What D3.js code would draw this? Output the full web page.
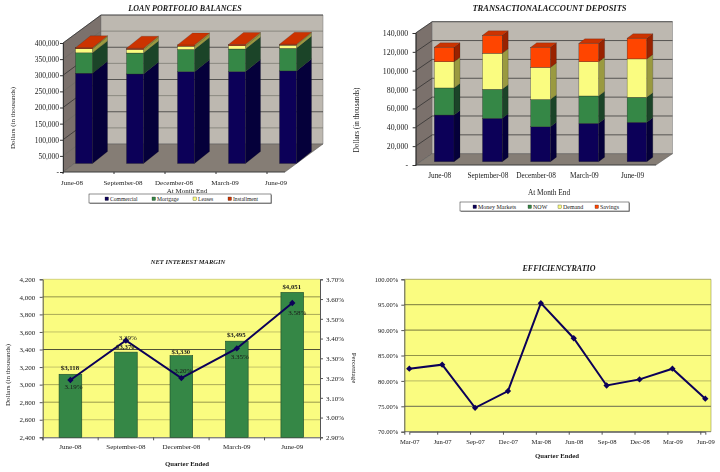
<!DOCTYPE html>
<html><head><meta charset="utf-8">
<script src="https://cdn.jsdelivr.net/npm/d3@7"></script>
<style>
html,body{margin:0;padding:0;background:#fff}
svg{display:block;filter:blur(0.3px)}
text{font-family:"Liberation Serif",serif;fill:#1a1a1a}
</style></head><body>
<svg id="c" width="720" height="472"></svg>
<script>
const quarters=["June-08","September-08","December-08","March-09","June-09"];
const loanKeys=["Commercial","Mortgage","Leases","Installment"];
const commercial=[280000,277500,284700,285000,287000];
const mortgage=[63000,65000,69000,70000,70000];
const leases=[13000,11000,10000,10000,10000];
const installment=[3000,4000,4000,4000,3000];
const depKeys=["Money Markets","NOW","Demand","Savings"];
const moneyMarkets=[49500,46000,37000,40700,41800];
const nowAcc=[28700,30800,29000,29000,26500];
const demand=[27800,38200,34000,36300,40700];
const savings=[15300,19000,21300,19500,21900];
const nimDollars=[3118,3370,3330,3495,4051];
const nimPct=[3.19,3.39,3.20,3.35,3.58];
const nimDollarLabels=["$3,118","$3,370","$3,330","$3,495","$4,051"];
const effQuarters=["Mar-07","Jun-07","Sep-07","Dec-07","Mar-08","Jun-08","Sep-08","Dec-08","Mar-09","Jun-09"];
const effRatio=[82.4,83.2,74.7,78.0,95.3,88.4,79.1,80.3,82.4,76.5];

const svg=d3.select("#c");
const NAVY="#0c0058",GREEN="#358746",YEL="#fafc80";
function txt(g,x,y,s,o={}){
  const t=g.append("text").attr("x",x).attr("y",y).text(s)
   .attr("font-size",o.size||7.5).attr("text-anchor",o.anchor||"middle");
  if(o.bold)t.attr("font-weight","bold");
  if(o.italic)t.attr("font-style","italic");
  if(o.rot!=null)t.attr("transform",`rotate(${o.rot} ${x} ${y})`);
  return t;
}
function poly(g,pts,fill,stroke,sw){
  g.append("polygon").attr("points",pts.map(p=>p.join(",")).join(" "))
   .attr("fill",fill).attr("stroke",stroke||"none").attr("stroke-width",sw||0);
}
function marker(g,px,py){
  g.append("path").attr("d",d3.symbol(d3.symbolSquare,20)).attr("fill",NAVY)
    .attr("transform",`translate(${px},${py}) rotate(45)`);
}
function stack3D(o){
  const g=svg.append("g");
  const {L,R,T,B,dx,dy}=o;
  const y=d3.scaleLinear().domain([0,o.max]).range([B,T]);
  poly(g,[[L,B],[L,T],[L+dx,T+dy],[L+dx,B+dy]],"#7b716c","#555",.5);
  poly(g,[[L+dx,T+dy],[R+dx,T+dy],[R+dx,B+dy],[L+dx,B+dy]],"#bdb8b0","#777",.5);
  poly(g,[[L,B],[L+dx,B+dy],[R+dx,B+dy],[R,B]],"#857d75","#555",.5);
  y.ticks(o.tickCount).forEach(v=>{
    const yy=y(v),dark=o.darkGrid(v);
    const c=dark?"#2a2a2a":"#6a6a62";
    if(v===0)return;
    g.append("path").attr("d",`M${L},${yy}L${L+dx},${yy+dy}L${R+dx},${yy+dy}`)
      .attr("fill","none").attr("stroke",c).attr("stroke-width",dark?.7:.6);
  });
  const ax=g.append("g").attr("transform",`translate(${L},0)`)
    .call(d3.axisLeft(y).ticks(o.tickCount).tickSize(3).tickFormat(v=>v===0?"-":d3.format(",")(v)));
  ax.select(".domain").attr("stroke","#333");
  ax.selectAll("line").attr("stroke","#333");
  ax.selectAll("text").attr("font-size",o.tickSize).attr("font-family",null).attr("dx",o.tickDx||0);
  g.append("line").attr("x1",L).attr("x2",R).attr("y1",B).attr("y2",B).attr("stroke","#333").attr("stroke-width",.7);
  const band=d3.scaleBand().domain(quarters).range(o.bandRange);
  const rows=quarters.map((q,i)=>{const r={q};o.keys.forEach((k,j)=>r[k]=o.series[j][i]);return r;});
  const st=d3.stack().keys(o.keys)(rows);
  const ys=d3.scaleLinear().domain([0,o.max]).range([o.base,o.base-(B-T)]);
  quarters.forEach((q,i)=>{
    const x0=band(q)+o.barOff,x1=x0+o.barW;
    st.forEach((s,j)=>{
      const a=ys(s[i][0]),b=ys(s[i][1]);
      poly(g,[[x1,a],[x1+o.bx,a+o.by],[x1+o.bx,b+o.by],[x1,b]],o.side[j],"#111",.2);
      g.append("rect").attr("x",x0).attr("y",b).attr("width",o.barW).attr("height",a-b)
        .attr("fill",o.front[j]).attr("stroke","#222").attr("stroke-width",.3);
      if(j===st.length-1)
        poly(g,[[x0,b],[x0+o.bx,b+o.by],[x1+o.bx,b+o.by],[x1,b]],o.top,"#222",.2);
    });
    g.append("line").attr("x1",band(q)).attr("x2",band(q)).attr("y1",B).attr("y2",B+(o.xTick||0)).attr("stroke","#333");
    txt(g,band(q)+o.labOff,o.labY,q,{size:o.labSize});
  });
  txt(g,o.tx,o.ty,o.title,{size:o.titleSize,bold:true,italic:true});
  txt(g,o.xtx,o.xty,"At Month End",{size:o.labSize});
  txt(g,o.ytx,o.yty,"Dollars (in thousands)",{size:o.labSize,rot:-90});
  g.append("rect").attr("x",o.leg[0]+.8).attr("y",o.leg[1]+.8).attr("width",o.leg[2]).attr("height",o.leg[3]).attr("fill","#888");
  g.append("rect").attr("x",o.leg[0]).attr("y",o.leg[1]).attr("width",o.leg[2]).attr("height",o.leg[3]).attr("fill","#fff").attr("stroke","#222").attr("stroke-width",.5);
  o.keys.forEach((k,j)=>{
    g.append("rect").attr("x",o.legX[j]).attr("y",o.leg[1]+3).attr("width",3.5).attr("height",3.5).attr("fill",o.front[j]).attr("stroke","#222").attr("stroke-width",.3);
    txt(g,o.legX[j]+5,o.leg[1]+7.2,k,{anchor:"start",size:o.legSize});
  });
}
stack3D({L:63,R:285,T:43,B:172,dx:38,dy:-28,max:400000,tickCount:8,tickSize:7.5,tickDx:2,
  darkGrid:v=>v%100000===0,bandRange:[63,318],barOff:12.5,barW:17,base:163.5,bx:15,by:-12,
  keys:loanKeys,series:[commercial,mortgage,leases,installment],
  front:[NAVY,GREEN,YEL,"#cc3300"],side:["#05003a","#1b4428","#9a9a40","#a89a3a"],top:"#cc3300",
  labOff:9,labY:184.5,labSize:7,xTick:2,legSize:5.6,
  tx:185,ty:10.5,title:"LOAN PORTFOLIO BALANCES",titleSize:8,
  xtx:187,xty:192.5,ytx:15,yty:118,
  leg:[89,194,182,9],legX:[105,152,193,228]});
stack3D({L:415.7,R:656,T:33,B:165,dx:16.5,dy:-11.3,max:140000,tickCount:7,tickSize:7.8,tickDx:-1.5,
  darkGrid:v=>true,bandRange:[415.7,656.7],barOff:18.6,barW:19.7,base:161.7,bx:6,by:-4.5,
  keys:depKeys,series:[moneyMarkets,nowAcc,demand,savings],
  front:[NAVY,GREEN,YEL,"#ff4500"],side:["#05003a","#1b4428","#9a9a40","#992200"],top:"#cc3300",
  labOff:24,labY:178,labSize:7.3,xTick:0,legSize:6,
  tx:549.5,ty:10.5,title:"TRANSACTIONALACCOUNT DEPOSITS",titleSize:8.5,
  xtx:549,xty:195,ytx:359,yty:120,
  leg:[460,202,169,9],legX:[473,528,558,595]});

// Net interest margin
(function(){
  const g=svg.append("g"),L=42.7,R=320,T=279.3,B=437.3;
  const y=d3.scaleLinear().domain([2400,4200]).range([B,T]);
  const y2=d3.scaleLinear().domain([2.9,3.7]).range([B,T]);
  const x=d3.scaleBand().domain(quarters).range([L,R]);
  g.append("rect").attr("x",L).attr("y",T).attr("width",R-L).attr("height",B-T).attr("fill",YEL);
  const gridCol={4200:"#c9c96a",4000:"#77773a",3800:"#94944c",3600:"#b5b560",3400:"#222",3200:"#b5b560",3000:"#94944c",2800:"#80803f",2600:"#b5b560"};
  y.ticks(9).forEach(v=>{
    if(v===2400)return;
    g.append("line").attr("x1",L).attr("x2",R).attr("y1",y(v)).attr("y2",y(v)).attr("stroke",gridCol[v]).attr("stroke-width",.8);
  });
  const ax=g.append("g").attr("transform",`translate(${L},0)`).call(d3.axisLeft(y).ticks(9).tickSize(3).tickFormat(d3.format(",")));
  const ar=g.append("g").attr("transform",`translate(${R},0)`).call(d3.axisRight(y2).ticks(8).tickSize(3).tickFormat(d=>d.toFixed(2)+"%"));
  const ab=g.append("g").attr("transform",`translate(0,${B})`).call(d3.axisBottom(x).tickSize(3));
  [ax,ar,ab].forEach(a=>{a.selectAll("text").attr("font-size",7).attr("font-family",null);a.selectAll("line,.domain").attr("stroke","#555");});
  ax.selectAll("text").attr("dx",-1.5);
  ab.selectAll(".tick line").attr("transform",`translate(${-x.bandwidth()/2},0)`);
  ab.selectAll("text").attr("y",7);
  const w=22.7;
  const cx=q=>x(q)+x.bandwidth()/2;
  quarters.forEach((q,i)=>{
    g.append("rect").attr("x",cx(q)-w/2).attr("y",y(nimDollars[i])).attr("width",w).attr("height",B-y(nimDollars[i]))
     .attr("fill",GREEN).attr("stroke","#1c4a2a").attr("stroke-width",.6);
  });
  g.append("path").datum(nimPct).attr("fill","none").attr("stroke",NAVY).attr("stroke-width",2)
    .attr("d",d3.line().x((d,i)=>cx(quarters[i])).y(d=>y2(d)));
  nimPct.forEach((d,i)=>marker(g,cx(quarters[i]),y2(d)));
  const dY=[-4,-3,-2,-4,-3],pY=[8.5,-1,-5.5,11,11.5],pX=[3,2,2,3,5];
  quarters.forEach((q,i)=>{
    txt(g,cx(q)-0.5,y(nimDollars[i])+dY[i],nimDollarLabels[i],{bold:true,size:6.8});
    txt(g,cx(q)+pX[i],y2(nimPct[i])+pY[i],nimPct[i].toFixed(2)+"%",{size:7});
  });
  txt(g,188,264,"NET INTEREST  MARGIN",{size:6.5,bold:true,italic:true});
  txt(g,187,466,"Quarter Ended",{size:6.8,bold:true});
  txt(g,10,375,"Dollars (in thousands)",{size:7,rot:-90});
  txt(g,352,368,"Percentage",{size:7,rot:90});
})();

// Efficiency ratio
(function(){
  const g=svg.append("g"),L=404.3,R=711,T=279.3,B=431.7;
  const y=d3.scaleLinear().domain([70,100]).range([B,T]);
  const x=d3.scalePoint().domain(effQuarters).range([409.3,705.3]);
  g.append("rect").attr("x",L).attr("y",T).attr("width",R-L).attr("height",B-T).attr("fill",YEL);
  const gridCol={100:"#99994e",95:"#55552c",90:"#55552c",85:"#77773a",80:"#a9a95c",75:"#444",70:"#555"};
  y.ticks(6).forEach(v=>{
    g.append("line").attr("x1",L).attr("x2",R).attr("y1",y(v)).attr("y2",y(v)).attr("stroke",gridCol[v]).attr("stroke-width",.8);
  });
  g.append("line").attr("x1",R).attr("x2",R).attr("y1",T).attr("y2",B).attr("stroke","#99994e").attr("stroke-width",.6);
  const ax=g.append("g").attr("transform",`translate(${L},0)`).call(d3.axisLeft(y).ticks(6).tickSize(3).tickFormat(d=>d.toFixed(2)+"%"));
  const ab=g.append("g").attr("transform",`translate(0,${B})`).call(d3.axisBottom(x).tickSize(3));
  [ax,ab].forEach(a=>{a.selectAll("text").attr("font-size",6.6).attr("font-family",null);a.selectAll("line,.domain").attr("stroke","#555");});
  ab.selectAll(".tick line").attr("transform","translate(-5,0)");
  ab.selectAll("text").attr("y",7.5);
  g.append("path").datum(effRatio).attr("fill","none").attr("stroke",NAVY).attr("stroke-width",2)
    .attr("d",d3.line().x((d,i)=>x(effQuarters[i])).y(d=>y(d)));
  effRatio.forEach((d,i)=>marker(g,x(effQuarters[i]),y(d)));
  txt(g,559,271,"EFFICIENCYRATIO",{size:8,bold:true,italic:true});
  txt(g,557,458,"Quarter Ended",{size:6.8,bold:true});
})();
</script></body></html>
